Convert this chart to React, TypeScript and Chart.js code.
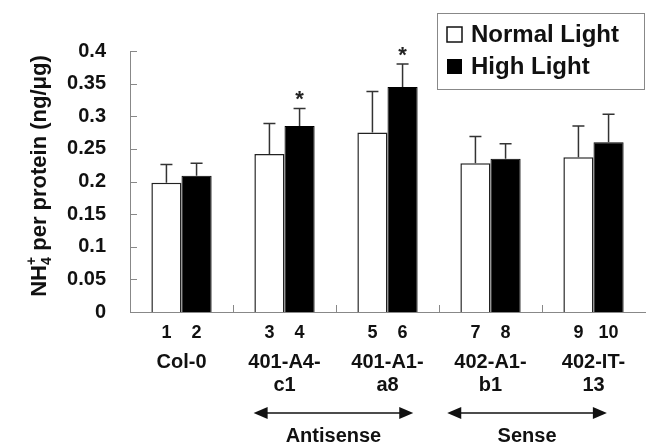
import React, { useEffect, useRef } from "react";
import { Chart, registerables } from "chart.js";

Chart.register(...registerables);

const categories = ["Col-0", "401-A4-c1", "401-A1-a8", "402-A1-b1", "402-IT-13"];
const categoryLines = [["Col-0"], ["401-A4-", "c1"], ["401-A1-", "a8"], ["402-A1-", "b1"], ["402-IT-", "13"]];
const barNumbers = [["1", "2"], ["3", "4"], ["5", "6"], ["7", "8"], ["9", "10"]];
const seriesNames = ["Normal Light", "High Light"];
const normalLight = [0.198, 0.242, 0.275, 0.228, 0.237];
const normalErr = [0.028, 0.047, 0.063, 0.041, 0.048];
const highLight = [0.209, 0.285, 0.345, 0.235, 0.26];
const highErr = [0.019, 0.027, 0.035, 0.023, 0.043];
const highSignificant = [false, true, true, false, false];
const groupNames = ["Antisense", "Sense"];
const groupSpans = [[1, 2], [3, 4]];
const yMin = 0;
const yMax = 0.4;
const yStep = 0.05;

const FONT = "'Liberation Sans', Arial, Helvetica, sans-serif";

const annotations = {
  id: "annotations",
  afterDatasetsDraw(chart: any) {
    const ctx = chart.ctx;
    const x = chart.scales.x;
    const y = chart.scales.y;
    const area = chart.chartArea;
    ctx.save();

    // inward y ticks
    ctx.strokeStyle = "#888";
    ctx.lineWidth = 1;
    y.ticks.forEach((t: any) => {
      const py = Math.round(y.getPixelForValue(t.value)) + 0.5;
      ctx.beginPath();
      ctx.moveTo(area.left, py);
      ctx.lineTo(area.left + 7, py);
      ctx.stroke();
    });
    // inward x ticks at category boundaries
    for (let i = 1; i < categories.length; i++) {
      const px = Math.round((x.getPixelForValue(i - 1) + x.getPixelForValue(i)) / 2) + 0.5;
      ctx.beginPath();
      ctx.moveTo(px, area.bottom);
      ctx.lineTo(px, area.bottom - 7);
      ctx.stroke();
    }

    // error bars
    const errs = [normalErr, highErr];
    const vals = [normalLight, highLight];
    ctx.strokeStyle = "#333";
    ctx.lineWidth = 1.5;
    [0, 1].forEach((d) => {
      const meta = chart.getDatasetMeta(d);
      meta.data.forEach((bar: any, i: number) => {
        const top = y.getPixelForValue(vals[d][i] + errs[d][i]);
        ctx.beginPath();
        ctx.moveTo(bar.x, bar.y);
        ctx.lineTo(bar.x, top);
        ctx.moveTo(bar.x - 6, top);
        ctx.lineTo(bar.x + 6, top);
        ctx.stroke();
        if (d === 1 && highSignificant[i]) {
          ctx.fillStyle = "#222";
          ctx.font = `bold 22px ${FONT}`;
          ctx.textAlign = "center";
          ctx.textBaseline = "alphabetic";
          ctx.fillText("*", bar.x, top - 2);
        }
      });
    });

    // bar numbers
    ctx.fillStyle = "#111";
    ctx.font = `bold 18px ${FONT}`;
    ctx.textAlign = "center";
    ctx.textBaseline = "middle";
    [0, 1].forEach((d) => {
      const meta = chart.getDatasetMeta(d);
      meta.data.forEach((bar: any, i: number) => {
        ctx.fillText(barNumbers[i][d], bar.x, 333);
      });
    });

    // category labels
    ctx.font = `bold 20px ${FONT}`;
    categoryLines.forEach((lines, i) => {
      const cx = x.getPixelForValue(i);
      lines.forEach((ln, j) => {
        ctx.fillText(ln, cx, 362 + j * 23);
      });
    });

    // group arrows
    const cw = x.getPixelForValue(1) - x.getPixelForValue(0);
    const offsets = [[-0.3, 0.25], [-0.42, 0.13]];
    ctx.strokeStyle = "#111";
    ctx.fillStyle = "#111";
    ctx.lineWidth = 1.5;
    groupSpans.forEach((span, g) => {
      const x1 = x.getPixelForValue(span[0]) + offsets[g][0] * cw;
      const x2 = x.getPixelForValue(span[1]) + offsets[g][1] * cw;
      const ay = 413;
      ctx.beginPath();
      ctx.moveTo(x1 + 10, ay);
      ctx.lineTo(x2 - 10, ay);
      ctx.stroke();
      ctx.beginPath();
      ctx.moveTo(x1, ay);
      ctx.lineTo(x1 + 14, ay - 6);
      ctx.lineTo(x1 + 14, ay + 6);
      ctx.closePath();
      ctx.fill();
      ctx.beginPath();
      ctx.moveTo(x2, ay);
      ctx.lineTo(x2 - 14, ay - 6);
      ctx.lineTo(x2 - 14, ay + 6);
      ctx.closePath();
      ctx.fill();
      ctx.font = `bold 20px ${FONT}`;
      ctx.textAlign = "center";
      ctx.textBaseline = "middle";
      ctx.fillText(groupNames[g], (x1 + x2) / 2, 436);
    });

    // y title with sub/superscript
    ctx.save();
    ctx.translate(38, 176);
    ctx.rotate(-Math.PI / 2);
    ctx.fillStyle = "#111";
    ctx.textBaseline = "alphabetic";
    ctx.textAlign = "left";
    const big = `bold 22px ${FONT}`;
    const small = `bold 14px ${FONT}`;
    const parts: [string, string, number][] = [
      ["NH", big, 0],
      ["4", small, 5],
      ["+", small, -10],
      [" per protein (ng/\u03bcg)", big, 0],
    ];
    const widths: number[] = [];
    parts.forEach((p, k) => {
      ctx.font = p[1];
      let w = ctx.measureText(p[0]).width;
      if (k === 1) w = 0;
      widths.push(w);
    });
    ctx.font = small;
    widths[2] = Math.max(ctx.measureText("4").width, ctx.measureText("+").width);
    const total = widths.reduce((a, b) => a + b, 0);
    let cx = -total / 2;
    const baseY = 8;
    parts.forEach((p, k) => {
      ctx.font = p[1];
      ctx.fillText(p[0], cx, baseY + p[2]);
      cx += widths[k];
    });
    ctx.restore();

    // legend
    ctx.strokeStyle = "#888";
    ctx.lineWidth = 1;
    ctx.strokeRect(437.5, 13.5, 207, 76);
    ctx.lineWidth = 1.5;
    ctx.strokeStyle = "#111";
    ctx.fillStyle = "#fff";
    ctx.fillRect(447, 27, 15, 15);
    ctx.strokeRect(447, 27, 15, 15);
    ctx.fillStyle = "#000";
    ctx.fillRect(447, 59, 15, 15);
    ctx.fillStyle = "#111";
    ctx.font = `bold 24px ${FONT}`;
    ctx.textAlign = "left";
    ctx.textBaseline = "middle";
    ctx.fillText(seriesNames[0], 471, 35);
    ctx.fillText(seriesNames[1], 471, 67);

    ctx.restore();
  },
};

export default function App() {
  const ref = useRef<HTMLCanvasElement>(null);
  useEffect(() => {
    document.body.style.margin = "0";
    const chart = new Chart(ref.current!, {
      type: "bar",
      data: {
        labels: categories,
        datasets: [
          {
            label: seriesNames[0],
            data: normalLight,
            backgroundColor: "#ffffff",
            borderColor: "#222",
            borderWidth: 1.5,
            categoryPercentage: 0.585,
            barPercentage: 1,
          },
          {
            label: seriesNames[1],
            data: highLight,
            backgroundColor: "#000000",
            borderColor: "#000",
            borderWidth: 1,
            categoryPercentage: 0.585,
            barPercentage: 1,
          },
        ],
      },
      options: {
        animation: false,
        responsive: false,
        maintainAspectRatio: false,
        layout: { padding: { left: 0, right: 1, top: 51, bottom: 0 } },
        plugins: { legend: { display: false }, tooltip: { enabled: false } },
        scales: {
          x: {
            grid: { display: false },
            border: { display: true, color: "#888", width: 1 },
            ticks: { display: false },
            afterFit: (s: any) => {
              s.height = 133;
            },
          },
          y: {
            min: yMin,
            max: yMax,
            grid: { display: false },
            border: { display: true, color: "#888", width: 1 },
            ticks: {
              stepSize: yStep,
              color: "#111",
              font: { family: FONT, weight: "bold", size: 20 },
              padding: 16,
              callback: (v: any) => String(Number(Number(v).toFixed(2))),
            },
            afterFit: (s: any) => {
              s.width = 130;
            },
          },
        },
      },
      plugins: [annotations],
    });
    return () => chart.destroy();
  }, []);
  return (
    <div style={{ position: "fixed", left: 0, top: 0, width: 646, height: 445, background: "#fff" }}>
      <canvas ref={ref} width={646} height={445} style={{ width: 646, height: 445 }} />
    </div>
  );
}
